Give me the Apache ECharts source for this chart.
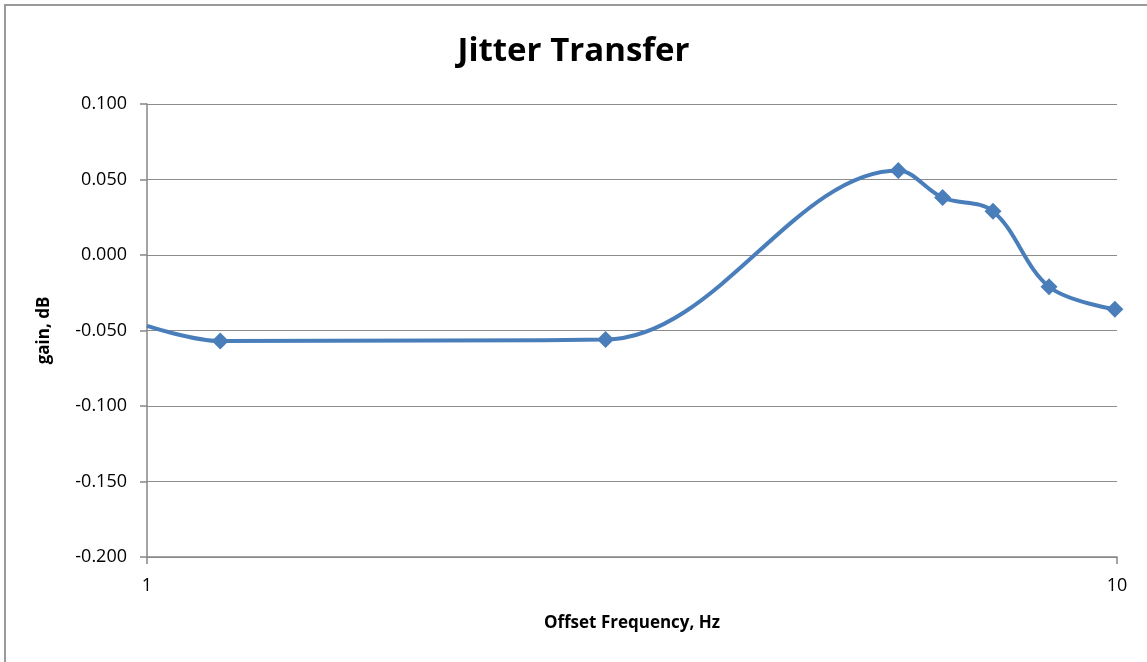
<!DOCTYPE html>
<html>
<head>
<meta charset="utf-8">
<script src="https://cdn.jsdelivr.net/npm/echarts@6/dist/echarts.min.js"></script>
<style>html,body{margin:0;padding:0;background:#fff}#c{width:1147px;height:662px}</style>
</head>
<body>
<div id="c"></div>
<script>
const freqHz = [1.0, 1.19, 2.97, 5.95, 6.61, 7.45, 8.51, 9.95];
const gainDb = [-0.047, -0.057, -0.056, 0.056, 0.038, 0.029, -0.021, -0.036];
const showMarker = [false, true, true, true, true, true, true, true];
const yTicks = { min: -0.2, max: 0.1, step: 0.05 };
const xRange = { min: 1, max: 10 };

const FONT = '"Open Sans", "Liberation Sans", sans-serif';
const chart = echarts.init(document.getElementById('c'), null, { renderer: 'canvas' });
const seriesData = freqHz.map((f, i) => ({
  value: [f, gainDb[i]],
  symbol: showMarker[i] ? 'diamond' : 'none'
}));
chart.setOption({
  animation: false,
  backgroundColor: '#fff',
  title: {
    text: 'Jitter Transfer',
    left: 'center',
    top: 30,
    textStyle: { fontFamily: FONT, fontSize: 33, fontWeight: 'bold', color: '#000' }
  },
  graphic: [{
    type: 'rect', shape: { x: 5, y: 5, width: 1200, height: 700 },
    style: { fill: 'none', stroke: '#9a9a9a', lineWidth: 2 }, silent: true
  }],
  grid: { left: 147, right: 30, top: 104, bottom: 105 },
  xAxis: {
    type: 'log', logBase: 10, min: xRange.min, max: xRange.max,
    name: 'Offset Frequency, Hz', nameLocation: 'middle', nameGap: 58,
    nameTextStyle: { fontFamily: FONT, fontSize: 17, fontWeight: 'bold', color: '#000' },
    axisLine: { onZero: false, lineStyle: { color: '#868686', width: 1.5 } },
    axisTick: { show: true, inside: false, length: 7, lineStyle: { color: '#868686', width: 1.5 } },
    minorTick: { show: false },
    splitLine: { show: false },
    axisLabel: { fontFamily: FONT, fontSize: 18, color: '#000', margin: 20 }
  },
  yAxis: {
    type: 'value', min: yTicks.min, max: yTicks.max, interval: yTicks.step,
    name: 'gain, dB', nameLocation: 'middle', nameGap: 94, nameRotate: 90,
    nameTextStyle: { fontFamily: FONT, fontSize: 17, fontWeight: 'bold', color: '#000' },
    axisLine: { show: true, lineStyle: { color: '#868686', width: 1.5 } },
    axisTick: { show: true, length: 7, lineStyle: { color: '#868686', width: 1.5 } },
    splitLine: { show: true, lineStyle: { color: '#8c8c8c', width: 1 } },
    axisLabel: {
      fontFamily: FONT, fontSize: 18, color: '#000', margin: 20,
      formatter: v => v.toFixed(3)
    }
  },
  series: [{
    type: 'line',
    data: seriesData,
    smooth: 0.35,
    symbolSize: 17,
    clip: false,
    lineStyle: { color: '#4a7ebb', width: 4 },
    itemStyle: { color: '#4a7ebb' }
  }]
});
</script>
</body>
</html>
